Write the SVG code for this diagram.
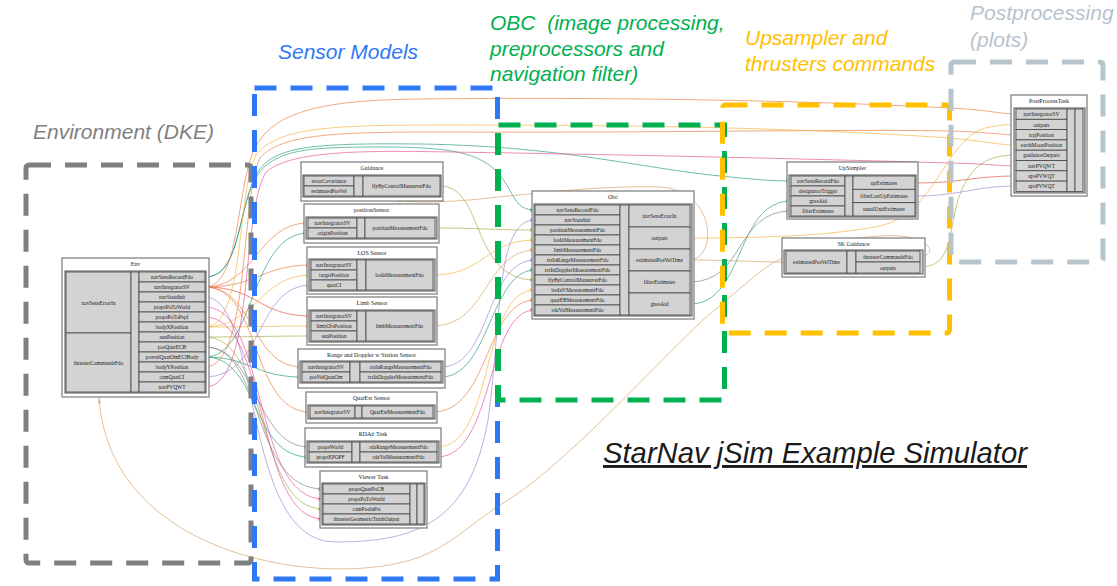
<svg xmlns="http://www.w3.org/2000/svg" width="1117" height="586" viewBox="0 0 1117 586">
<style>
  .box{fill:#fff;stroke:#7a7a7a;stroke-width:1.2}
  .frame{fill:#d6d6d6;stroke:#555;stroke-width:1}
  .cell{fill:#d3d3d3;stroke:#444;stroke-width:0.8}
  .t{font-family:"Liberation Serif",serif;font-size:5.4px;fill:#1a1a1a;text-anchor:middle}
  .ttl{font-family:"Liberation Serif",serif;font-size:6px;fill:#1a1a1a;text-anchor:middle}
  .zone{fill:none;stroke-width:5;stroke-dasharray:22 14}
  .lab{font-family:"Liberation Sans",Arial,sans-serif;font-style:italic;font-size:21px}
  #connectors path{fill:none;stroke-width:0.9;opacity:0.75}
  .te{stroke:#2b9c7f}.gn{stroke:#1fa36b}.or{stroke:#ec7d45}.rd{stroke:#e0533d}
  .ye{stroke:#f5b53b}.ol{stroke:#aaa84a}.tn{stroke:#d9a066}.pu{stroke:#9a8ad4}
  .gy{stroke:#7f8585}.pk{stroke:#e6559a}
</style>
<defs>
  <marker id="m-te" viewBox="0 0 6 4" refX="6" refY="2" markerWidth="5" markerHeight="3.5" markerUnits="userSpaceOnUse" orient="auto"><path d="M0,0L6,2L0,4z" fill="#2b9c7f"/></marker>
  <marker id="m-gn" viewBox="0 0 6 4" refX="6" refY="2" markerWidth="5" markerHeight="3.5" markerUnits="userSpaceOnUse" orient="auto"><path d="M0,0L6,2L0,4z" fill="#1fa36b"/></marker>
  <marker id="m-or" viewBox="0 0 6 4" refX="6" refY="2" markerWidth="5" markerHeight="3.5" markerUnits="userSpaceOnUse" orient="auto"><path d="M0,0L6,2L0,4z" fill="#ec7d45"/></marker>
  <marker id="m-rd" viewBox="0 0 6 4" refX="6" refY="2" markerWidth="5" markerHeight="3.5" markerUnits="userSpaceOnUse" orient="auto"><path d="M0,0L6,2L0,4z" fill="#e0533d"/></marker>
  <marker id="m-ye" viewBox="0 0 6 4" refX="6" refY="2" markerWidth="5" markerHeight="3.5" markerUnits="userSpaceOnUse" orient="auto"><path d="M0,0L6,2L0,4z" fill="#f5b53b"/></marker>
  <marker id="m-ol" viewBox="0 0 6 4" refX="6" refY="2" markerWidth="5" markerHeight="3.5" markerUnits="userSpaceOnUse" orient="auto"><path d="M0,0L6,2L0,4z" fill="#aaa84a"/></marker>
  <marker id="m-tn" viewBox="0 0 6 4" refX="6" refY="2" markerWidth="5" markerHeight="3.5" markerUnits="userSpaceOnUse" orient="auto"><path d="M0,0L6,2L0,4z" fill="#d9a066"/></marker>
  <marker id="m-pu" viewBox="0 0 6 4" refX="6" refY="2" markerWidth="5" markerHeight="3.5" markerUnits="userSpaceOnUse" orient="auto"><path d="M0,0L6,2L0,4z" fill="#9a8ad4"/></marker>
  <marker id="m-gy" viewBox="0 0 6 4" refX="6" refY="2" markerWidth="5" markerHeight="3.5" markerUnits="userSpaceOnUse" orient="auto"><path d="M0,0L6,2L0,4z" fill="#7f8585"/></marker>
  <marker id="m-pk" viewBox="0 0 6 4" refX="6" refY="2" markerWidth="5" markerHeight="3.5" markerUnits="userSpaceOnUse" orient="auto"><path d="M0,0L6,2L0,4z" fill="#e6559a"/></marker>
</defs>
<rect width="1117" height="586" fill="#fff"/>

<!-- data flow connectors -->
<g id="connectors">
  <path class="te" marker-end="url(#m-te)" d="M205,277 C238,277 236,225 252,185 C268,150 300,147 380,147 C450,147 480,152 500,175 C515,195 515,210 535,210"/>
  <path class="te" marker-end="url(#m-te)" d="M205,277 C240,277 238,210 256,175 C272,146 310,143 420,144 C560,146 640,168 720,176 C760,180 775,181 791,181"/>
  <path class="te" marker-end="url(#m-te)" d="M690,304 C745,304 735,201 791,201"/>
  <path class="gn" marker-end="url(#m-gn)" d="M205,357 C250,357 255,377 302,377"/>
  <path class="gn" marker-end="url(#m-gn)" d="M205,357 C260,357 250,457 309,457"/>
  <path class="te" marker-end="url(#m-te)" d="M205,357 C255,357 250,233 308,233"/>
  <path class="te" marker-end="url(#m-te)" d="M441,377 C490,377 490,270 535,270"/>
  <path class="or" marker-end="url(#m-or)" d="M205,287 C240,287 236,190 254,150 C272,112 320,100 420,99 C600,97 800,100 950,108 C990,110 1000,114 1016,114"/>
  <path class="or" marker-end="url(#m-or)" d="M205,287 C255,287 258,223 308,223"/>
  <path class="or" marker-end="url(#m-or)" d="M205,287 C258,287 262,265 311,265"/>
  <path class="rd" marker-end="url(#m-rd)" d="M205,287 C258,287 258,316 311,316"/>
  <path class="or" marker-end="url(#m-or)" d="M205,287 C255,287 250,367 302,367"/>
  <path class="or" marker-end="url(#m-or)" d="M205,287 C262,287 250,412 310,412"/>
  <path class="or" marker-end="url(#m-or)" d="M433,412 C490,412 485,300 535,300"/>
  <path class="or" marker-end="url(#m-or)" d="M205,367 C250,367 240,200 260,158 C282,133 340,132 450,132 C650,133 850,129 950,131 C990,132 1000,135 1016,135"/>
  <path class="rd" marker-end="url(#m-rd)" d="M915,183 C960,183 975,176 1016,176"/>
  <path class="ye" marker-end="url(#m-ye)" d="M205,327 C255,327 260,275 311,275"/>
  <path class="ye" marker-end="url(#m-ye)" d="M205,327 C250,327 270,326 311,326"/>
  <path class="ye" marker-end="url(#m-ye)" d="M205,327 C245,327 236,195 256,155 C278,127 330,125 450,125 C650,125 800,128 950,138 C990,142 1000,145 1016,145"/>
  <path class="ye" marker-end="url(#m-ye)" d="M433,275 C485,275 485,240 535,240"/>
  <path class="ye" marker-end="url(#m-ye)" d="M437,447 C495,447 480,290 535,290"/>
  <path class="ye" marker-end="url(#m-ye)" d="M690,238 C760,238 830,236 880,226 C935,214 945,140 985,128 C1000,125 1005,124.5 1016,124.5"/>
  <path class="tn" marker-end="url(#m-tn)" d="M920,256 C940,256 930,232 880,236 C830,240 790,245 750,280 L703,320 C640,380 560,470 500,505 C470,525 450,545 420,557 C330,590 110,560 99,398"/>
  <path class="ol" marker-end="url(#m-ol)" d="M205,337 C250,337 270,336 311,336"/>
  <path class="ol" marker-end="url(#m-ol)" d="M205,337 C270,337 255,509 323,509"/>
  <path class="ol" marker-end="url(#m-ol)" d="M435,228 C480,228 490,230 535,230"/>
  <path class="ol" marker-end="url(#m-ol)" d="M440,186 C485,186 470,280 535,280"/>
  <path class="tn" marker-end="url(#m-tn)" d="M433,326 C488,326 485,250 535,250"/>
  <path class="tn" marker-end="url(#m-tn)" d="M690,260 C730,260 750,262 786,262"/>
  <path class="tn" marker-end="url(#m-tn)" d="M690,260 C718,258 716,190 660,187 C600,185 520,195 470,200 C430,203 405,202 396,200"/>
  <path class="pu" marker-end="url(#m-pu)" d="M205,297 C262,297 240,542 335,542 C420,542 470,520 488,420 C502,320 495,220 535,220"/>
  <path class="pu" marker-end="url(#m-pu)" d="M205,377 C265,377 255,285 311,285"/>
  <path class="pu" marker-end="url(#m-pu)" d="M441,367 C492,367 485,260 535,260"/>
  <path class="pu" marker-end="url(#m-pu)" d="M915,196 C960,196 975,186 1016,186"/>
  <path class="gy" marker-end="url(#m-gy)" d="M205,347 C258,347 255,447 309,447"/>
  <path class="gy" marker-end="url(#m-gy)" d="M205,347 C265,347 250,489 323,489"/>
  <path class="gy" marker-end="url(#m-gy)" d="M690,282 C745,282 735,211 791,211"/>
  <path class="ol" marker-end="url(#m-ol)" d="M920,267 C952,267 948,235 958,200 C970,163 990,155 1016,155"/>
  <path class="pk" marker-end="url(#m-pk)" d="M205,307 C268,307 252,499 323,499"/>
  <path class="pk" marker-end="url(#m-pk)" d="M205,317 C270,317 255,519 323,519"/>
  <path class="pk" marker-end="url(#m-pk)" d="M205,387 C255,387 240,215 266,172 C290,152 350,150 450,152 C650,155 850,160 950,163 C990,164 1000,166 1016,166"/>
  <path class="pk" marker-end="url(#m-pk)" d="M437,457 C495,457 485,310 535,310"/>
</g>

<!-- Env -->
<g id="env">
  <rect class="box" x="62" y="258" width="147" height="139"/>
  <text class="ttl" x="135.5" y="266">Env</text>
  <rect class="frame" x="65" y="271" width="141" height="122"/>
  <rect class="cell" x="66" y="272" width="65" height="61"/>
  <rect class="cell" x="66" y="333" width="65" height="59"/>
  <rect class="cell" x="131" y="272" width="8" height="120"/>
  <text class="t" x="98.5" y="305">navSensErrorIn</text>
  <text class="t" x="98.5" y="365">thrusterCommandsFdo</text>
  <rect class="cell" x="139" y="272" width="66" height="10"/><text class="t" x="172" y="279">navSensRecordFdo</text>
  <rect class="cell" x="139" y="282" width="66" height="10"/><text class="t" x="172" y="289">navIntegratorSV</text>
  <rect class="cell" x="139" y="292" width="66" height="10"/><text class="t" x="172" y="299">navStateInit</text>
  <rect class="cell" x="139" y="302" width="66" height="10"/><text class="t" x="172" y="309">propsPoToWorld</text>
  <rect class="cell" x="139" y="312" width="66" height="10"/><text class="t" x="172" y="319">propsPoToPspf</text>
  <rect class="cell" x="139" y="322" width="66" height="10"/><text class="t" x="172" y="329">bodyXPosition</text>
  <rect class="cell" x="139" y="332" width="66" height="10"/><text class="t" x="172" y="339">sunPosition</text>
  <rect class="cell" x="139" y="342" width="66" height="10"/><text class="t" x="172" y="349">posQuatECB</text>
  <rect class="cell" x="139" y="352" width="66" height="10"/><text class="t" x="172" y="359">posvelQuatOmECIBody</text>
  <rect class="cell" x="139" y="362" width="66" height="10"/><text class="t" x="172" y="369">bodyYPosition</text>
  <rect class="cell" x="139" y="372" width="66" height="10"/><text class="t" x="172" y="379">camQuatCI</text>
  <rect class="cell" x="139" y="382" width="66" height="10"/><text class="t" x="172" y="389">navPVQWT</text>
</g>

<!-- Guidance -->
<g id="guidance">
  <rect class="box" x="301" y="162" width="142" height="39"/>
  <text class="ttl" x="372" y="170">Guidance</text>
  <rect class="frame" x="303" y="175" width="138" height="22"/>
  <rect class="cell" x="304" y="176" width="50" height="10"/><text class="t" x="329" y="183">errorCovariance</text>
  <rect class="cell" x="304" y="186" width="50" height="10"/><text class="t" x="329" y="193">estimatedPosVel</text>
  <rect class="cell" x="354" y="176" width="9" height="20"/>
  <rect class="cell" x="363" y="176" width="77" height="20"/><text class="t" x="401.5" y="188">flyByControlManeuverFdo</text>
</g>

<!-- positionSensor -->
<g id="positionSensor">
  <rect class="box" x="304" y="204" width="135" height="39"/>
  <text class="ttl" x="371.5" y="212">positionSensor</text>
  <rect class="frame" x="306" y="217" width="131" height="22"/>
  <rect class="cell" x="308" y="218" width="49" height="10"/><text class="t" x="332.5" y="225">navIntegratorSV</text>
  <rect class="cell" x="308" y="228" width="49" height="10"/><text class="t" x="332.5" y="235">originPosition</text>
  <rect class="cell" x="357" y="218" width="8" height="20"/>
  <rect class="cell" x="365" y="218" width="70" height="20"/><text class="t" x="400" y="230">positionMeasurementFdo</text>
</g>

<!-- LOS Sensor -->
<g id="losSensor">
  <rect class="box" x="307" y="247" width="130" height="47"/>
  <text class="ttl" x="372" y="255">LOS Sensor</text>
  <rect class="frame" x="309" y="259" width="126" height="32"/>
  <rect class="cell" x="311" y="260" width="46" height="10"/><text class="t" x="334" y="267">navIntegratorSV</text>
  <rect class="cell" x="311" y="270" width="46" height="10"/><text class="t" x="334" y="277">targetPosition</text>
  <rect class="cell" x="311" y="280" width="46" height="10"/><text class="t" x="334" y="287">quatCI</text>
  <rect class="cell" x="357" y="260" width="9" height="30"/>
  <rect class="cell" x="366" y="260" width="67" height="30"/><text class="t" x="399.5" y="277">losInMeasurementFdo</text>
</g>

<!-- Limb Sensor -->
<g id="limbSensor">
  <rect class="box" x="307" y="297" width="130" height="48"/>
  <text class="ttl" x="372" y="305">Limb Sensor</text>
  <rect class="frame" x="309" y="310" width="126" height="32"/>
  <rect class="cell" x="311" y="311" width="46" height="10"/><text class="t" x="334" y="318">navIntegratorSV</text>
  <rect class="cell" x="311" y="321" width="46" height="10"/><text class="t" x="334" y="328">limbOfsPosition</text>
  <rect class="cell" x="311" y="331" width="46" height="10"/><text class="t" x="334" y="338">sunPosition</text>
  <rect class="cell" x="357" y="311" width="9" height="30"/>
  <rect class="cell" x="366" y="311" width="67" height="30"/><text class="t" x="399.5" y="328">limbMeasurementFdo</text>
</g>

<!-- Range and Doppler w Station Sensor -->
<g id="rangeDopplerSensor">
  <rect class="box" x="298" y="349" width="147" height="39"/>
  <text class="ttl" x="371.5" y="357">Range and Doppler w Station Sensor</text>
  <rect class="frame" x="300" y="361" width="143" height="22"/>
  <rect class="cell" x="302" y="362" width="48" height="10"/><text class="t" x="326" y="369">navIntegratorSV</text>
  <rect class="cell" x="302" y="372" width="48" height="10"/><text class="t" x="326" y="379">posVelQuatOm</text>
  <rect class="cell" x="350" y="362" width="10" height="20"/>
  <rect class="cell" x="360" y="362" width="81" height="10"/><text class="t" x="400.5" y="369">rrsInRangeMeasurementFdo</text>
  <rect class="cell" x="360" y="372" width="81" height="10"/><text class="t" x="400.5" y="379">rrsInDopplerMeasurementFdo</text>
</g>

<!-- QuatEst Sensor -->
<g id="quatEstSensor">
  <rect class="box" x="306" y="392" width="131" height="31"/>
  <text class="ttl" x="371.5" y="400">QuatEst Sensor</text>
  <rect class="frame" x="308" y="405" width="127" height="14"/>
  <rect class="cell" x="310" y="406" width="45" height="12"/><text class="t" x="332.5" y="414">navIntegratorSV</text>
  <rect class="cell" x="355" y="406" width="7" height="12"/>
  <rect class="cell" x="362" y="406" width="71" height="12"/><text class="t" x="397.5" y="414">QuatEstMeasurementFdo</text>
</g>

<!-- RDAit Task -->
<g id="rdaitTask">
  <rect class="box" x="305" y="428" width="136" height="39"/>
  <text class="ttl" x="373" y="436">RDAit Task</text>
  <rect class="frame" x="307" y="441" width="132" height="22"/>
  <rect class="cell" x="309" y="442" width="43" height="10"/><text class="t" x="330.5" y="449">propsWorld</text>
  <rect class="cell" x="309" y="452" width="43" height="10"/><text class="t" x="330.5" y="459">propsEPOPF</text>
  <rect class="cell" x="352" y="442" width="8" height="20"/>
  <rect class="cell" x="360" y="442" width="77" height="10"/><text class="t" x="398.5" y="449">rdaRangeMeasurementFdo</text>
  <rect class="cell" x="360" y="452" width="77" height="10"/><text class="t" x="398.5" y="459">rdaValMeasurementFdo</text>
</g>

<!-- Viewer Task -->
<g id="viewerTask">
  <rect class="box" x="320" y="471" width="107" height="57"/>
  <text class="ttl" x="373.5" y="479">Viewer Task</text>
  <rect class="frame" x="322" y="483" width="103" height="42"/>
  <rect class="cell" x="323" y="484" width="87" height="10"/><text class="t" x="366.5" y="491">propsQuatPoCB</text>
  <rect class="cell" x="323" y="494" width="87" height="10"/><text class="t" x="366.5" y="501">propsPoToWorld</text>
  <rect class="cell" x="323" y="504" width="87" height="10"/><text class="t" x="366.5" y="511">camPosInPsi</text>
  <rect class="cell" x="323" y="514" width="87" height="10"/><text class="t" x="366.5" y="521">thrusterGeometricTruthOutput</text>
  <rect class="cell" x="410" y="484" width="7" height="40"/>
  <rect class="cell" x="417" y="484" width="7" height="40"/>
</g>

<!-- Obc -->
<g id="obc">
  <rect class="box" x="532" y="191" width="162" height="128"/>
  <text class="ttl" x="613" y="199">Obc</text>
  <rect class="frame" x="534" y="204" width="158" height="112"/>
  <rect class="cell" x="535" y="205" width="85" height="10"/><text class="t" x="577.5" y="212">navSensRecordFdo</text>
  <rect class="cell" x="535" y="215" width="85" height="10"/><text class="t" x="577.5" y="222">navStateInit</text>
  <rect class="cell" x="535" y="225" width="85" height="10"/><text class="t" x="577.5" y="232">positionMeasurementFdo</text>
  <rect class="cell" x="535" y="235" width="85" height="10"/><text class="t" x="577.5" y="242">losInMeasurementFdo</text>
  <rect class="cell" x="535" y="245" width="85" height="10"/><text class="t" x="577.5" y="252">limbMeasurementFdo</text>
  <rect class="cell" x="535" y="255" width="85" height="10"/><text class="t" x="577.5" y="262">rrsInRangeMeasurementFdo</text>
  <rect class="cell" x="535" y="265" width="85" height="10"/><text class="t" x="577.5" y="272">rrsInDopplerMeasurementFdo</text>
  <rect class="cell" x="535" y="275" width="85" height="10"/><text class="t" x="577.5" y="282">flyByControlManeuverFdo</text>
  <rect class="cell" x="535" y="285" width="85" height="10"/><text class="t" x="577.5" y="292">losInVMeasurementFdo</text>
  <rect class="cell" x="535" y="295" width="85" height="10"/><text class="t" x="577.5" y="302">quatEBMeasurementFdo</text>
  <rect class="cell" x="535" y="305" width="85" height="10"/><text class="t" x="577.5" y="312">rdaValMeasurementFdo</text>
  <rect class="cell" x="620" y="205" width="9" height="110"/>
  <rect class="cell" x="629" y="205" width="61" height="22"/><text class="t" x="659.5" y="218">navSensErrorIn</text>
  <rect class="cell" x="629" y="227" width="61" height="22"/><text class="t" x="659.5" y="240">outputs</text>
  <rect class="cell" x="629" y="249" width="61" height="22"/><text class="t" x="659.5" y="262">estimatedPosVelTime</text>
  <rect class="cell" x="629" y="271" width="61" height="22"/><text class="t" x="659.5" y="284">filterEstimates</text>
  <rect class="cell" x="629" y="293" width="61" height="22"/><text class="t" x="659.5" y="306">gnssAid</text>
</g>

<!-- UpSampler -->
<g id="upSampler">
  <rect class="box" x="787" y="162" width="131" height="57"/>
  <text class="ttl" x="852.5" y="170">UpSampler</text>
  <rect class="frame" x="789" y="175" width="127" height="42"/>
  <rect class="cell" x="791" y="176" width="54" height="10"/><text class="t" x="818" y="183">navSensRecordFdo</text>
  <rect class="cell" x="791" y="186" width="54" height="10"/><text class="t" x="818" y="193">designatorTrigger</text>
  <rect class="cell" x="791" y="196" width="54" height="10"/><text class="t" x="818" y="203">gnssAid</text>
  <rect class="cell" x="791" y="206" width="54" height="10"/><text class="t" x="818" y="213">filterEstimates</text>
  <rect class="cell" x="845" y="176" width="8" height="40"/>
  <rect class="cell" x="853" y="176" width="62" height="13.33"/><text class="t" x="884" y="184.6">upEstimates</text>
  <rect class="cell" x="853" y="189.33" width="62" height="13.33"/><text class="t" x="884" y="198">filterLastUpEstimates</text>
  <rect class="cell" x="853" y="202.67" width="62" height="13.33"/><text class="t" x="884" y="211.3">usualUnitEstimates</text>
</g>

<!-- SK Guidance -->
<g id="skGuidance">
  <rect class="box" x="782" y="238" width="143" height="39"/>
  <text class="ttl" x="853.5" y="246">SK Guidance</text>
  <rect class="frame" x="784" y="250" width="139" height="24"/>
  <rect class="cell" x="786" y="251" width="61" height="22"/><text class="t" x="816.5" y="264">estimatedPosVelTime</text>
  <rect class="cell" x="847" y="251" width="9" height="22"/>
  <rect class="cell" x="856" y="251" width="64" height="11"/><text class="t" x="888" y="258.5">thrusterCommandsFdo</text>
  <rect class="cell" x="856" y="262" width="64" height="11"/><text class="t" x="888" y="269.5">outputs</text>
</g>

<!-- PostProcessTask -->
<g id="postProcessTask">
  <rect class="box" x="1011" y="95" width="76" height="101"/>
  <text class="ttl" x="1049" y="103">PostProcessTask</text>
  <rect class="frame" x="1014" y="108" width="71" height="85"/>
  <rect class="cell" x="1016" y="109" width="51" height="10.3"/><text class="t" x="1041.5" y="116.2">navIntegratorSV</text>
  <rect class="cell" x="1016" y="119.3" width="51" height="10.3"/><text class="t" x="1041.5" y="126.5">outputs</text>
  <rect class="cell" x="1016" y="129.6" width="51" height="10.3"/><text class="t" x="1041.5" y="136.8">trajPosition</text>
  <rect class="cell" x="1016" y="139.9" width="51" height="10.3"/><text class="t" x="1041.5" y="147.1">earthMoonPosition</text>
  <rect class="cell" x="1016" y="150.2" width="51" height="10.3"/><text class="t" x="1041.5" y="157.4">guidanceOutputs</text>
  <rect class="cell" x="1016" y="160.5" width="51" height="10.3"/><text class="t" x="1041.5" y="167.7">navPVQWT</text>
  <rect class="cell" x="1016" y="170.8" width="51" height="10.3"/><text class="t" x="1041.5" y="178">upsPVWQT</text>
  <rect class="cell" x="1016" y="181.1" width="51" height="10.3"/><text class="t" x="1041.5" y="188.3">upsPVWQT</text>
  <rect class="cell" x="1067" y="109" width="8" height="82.4"/>
  <rect class="cell" x="1075" y="109" width="8" height="82.4"/>
</g>

<!-- subsystem frames -->
<g id="frames">
  <rect class="zone" x="26" y="165" width="225" height="398" rx="3" stroke="#7f7f7f"/>
  <rect class="zone" x="254.5" y="88" width="243" height="491" stroke="#2f78f5"/>
  <rect class="zone" x="498.5" y="125" width="226" height="275" stroke="#00b050"/>
  <rect class="zone" x="722.5" y="105" width="227" height="228" rx="3" stroke="#ffc000"/>
  <rect class="zone" x="951" y="62" width="152" height="200" rx="3" stroke="#b7c4cc"/>
</g>

<!-- frame captions -->
<g id="captions">
  <text class="lab" x="33" y="139" fill="#7f7f7f">Environment (DKE)</text>
  <text class="lab" x="278" y="59" fill="#2f78f5">Sensor Models</text>
  <text class="lab" x="490" y="30" fill="#00b050" xml:space="preserve">OBC  (image processing,</text>
  <text class="lab" x="490" y="56" fill="#00b050">preprocessors and</text>
  <text class="lab" x="490" y="81" fill="#00b050">navigation filter)</text>
  <text class="lab" x="745" y="45" fill="#ffc000">Upsampler and</text>
  <text class="lab" x="745" y="71" fill="#ffc000">thrusters commands</text>
  <text class="lab" x="970" y="20" fill="#b7c4cc">Postprocessing</text>
  <text class="lab" x="970" y="47" fill="#b7c4cc">(plots)</text>
  <text x="603" y="463" font-family="'Liberation Sans',Arial,sans-serif" font-style="italic" font-size="29" fill="#1a1a1a" text-decoration="underline" textLength="424" lengthAdjust="spacingAndGlyphs">StarNav jSim Example Simulator</text>
</g>
</svg>
